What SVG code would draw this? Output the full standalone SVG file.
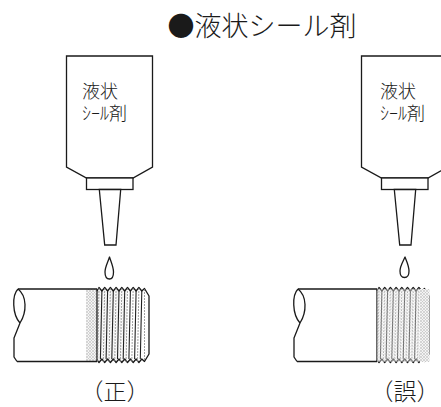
<svg xmlns="http://www.w3.org/2000/svg" width="441" height="407" viewBox="0 0 441 407">
  <defs>
    <style>
      .ln { fill: none; stroke: #1a1a1a; stroke-width: 1.3; stroke-linejoin: round; }
      .body { fill: #fff; stroke: #1a1a1a; stroke-width: 1.3; stroke-linejoin: miter; }
      .thr { stroke: #222; stroke-width: 1.1; fill: none; }
      .thr2 { stroke: #888; stroke-width: 0.8; stroke-dasharray: 2 1; fill: none; }
      .jp { font-family: "Noto Sans CJK JP", "Noto Sans CJK SC", sans-serif; fill: #1a1a1a; font-weight: 300; }
      .title { font-size: 27px; }
      .lbl { font-size: 18px; }
      .cap { font-size: 23px; }
    </style>
    <!-- light crosshatch used for the applied sealant -->
    <pattern id="hatch" width="3" height="3" patternUnits="userSpaceOnUse">
      <rect width="3" height="3" fill="#f4f4f4"/>
      <path d="M0,3 L3,0 M0,0 L3,3" stroke="#c0c0c0" stroke-width="0.6"/>
    </pattern>

    <!-- tube of liquid sealant with its nozzle -->
    <g id="tube">
      <path class="body" d="M66.5,56 L152.5,56 L152.5,167 L133,178 L86.5,178 L66.5,167 Z"/>
      <rect class="body" x="86.5" y="178" width="46.5" height="11.5"/>
      <path class="body" d="M99.3,189.5 L120.7,189.5 L116,245 L104.7,245 Z"/>
    </g>

    <!-- threaded pipe end -->
    <g id="pipeBody">
      <path class="ln" d="M18,289 L97,289 M17,361.5 L97,361.5 M97,289 L97,361.5"/>
      <path class="ln" d="M18,289 C12,295 12,314 20,323 M18,289 C27,296 27,312 20,323 M20,323 L14,338 L14,357 L17,361.5"/>
    </g>
    <g id="threads">
      <path class="ln" d="M97,291 L99,287.5 L101.9,291 L104.7,287.5 L107.6,291 L110.4,287.5 L113.3,291 L116.1,287.5 L119,291 L121.8,287.5 L124.7,291 L127.5,287.5 L130.4,291 L133.2,287.5 L136.1,291 L138.9,287.5 L141.8,291 L144.5,288.5 L149,296 L149,354 L144.5,361.5 L141.8,359 L138.9,362.5 L136.1,359 L133.2,362.5 L130.4,359 L127.5,362.5 L124.7,359 L121.8,362.5 L119,359 L116.1,362.5 L113.3,359 L110.4,362.5 L107.6,359 L104.7,362.5 L101.9,359 L99,362.5 L97,360"/>
      <path class="thr" d="M101.9,291 L100.4,359 M107.6,291 L106.1,359 M113.3,291 L111.8,359 M119,291 L117.5,359 M124.7,291 L123.2,359 M130.4,291 L128.9,359 M136.1,291 L134.6,359 M141.8,291 L140.3,359"/>
      <path class="thr2" d="M99,288 L97.6,362 M104.7,288 L103.3,362 M110.4,288 L109,362 M116.1,288 L114.7,362 M121.8,288 L120.4,362 M127.5,288 L126.1,362 M133.2,288 L131.8,362 M138.9,288 L137.5,362 M144.5,289 L144.5,361"/>
    </g>
  </defs>

  <!-- heading -->
  <text class="jp title" x="262" y="35.5" text-anchor="middle">●液状シール剤</text>

  <!-- left: sealant applied clear of the leading threads -->
  <g id="tube-correct">
    <use href="#tube"/>
    <text class="jp lbl" x="82" y="97.5">液状</text>
    <text class="jp lbl" x="82" y="119.5">ｼｰﾙ剤</text>
    <path class="ln" d="M109.5,257 C108,262 105,267 105,272 C105,277 107,279 109.5,279 C112,279 113.5,277 113.5,272 C113.5,267 111,262 109.5,257 Z"/>
  </g>
  <g id="pipe-correct">
    <rect x="86" y="289" width="11" height="72.5" fill="url(#hatch)"/>
    <rect x="97" y="290" width="30" height="71" fill="url(#hatch)" opacity="0.3"/>
    <use href="#pipeBody"/>
    <use href="#threads"/>
  </g>

  <!-- right: sealant spread over the thread tip -->
  <g id="tube-wrong" transform="translate(295,0)">
    <use href="#tube"/>
    <text class="jp lbl" x="85" y="97.5">液状</text>
    <text class="jp lbl" x="85" y="119.5">ｼｰﾙ剤</text>
    <path class="ln" d="M110,257 C108,262 105,266 105,271 C105,276 107,277.5 109.5,277.5 C112,277.5 114,276 114,271 C114,266 112,262 110,257 Z"/>
  </g>
  <g id="pipe-wrong" transform="translate(280,0)">
    <use href="#pipeBody"/>
    <use href="#threads"/>
    <rect x="97" y="289" width="52" height="73" fill="url(#hatch)" opacity="0.45"/>
    <rect x="140" y="289" width="9.5" height="73" fill="url(#hatch)"/>
  </g>

  <!-- captions -->
  <text class="jp cap" x="115" y="400" text-anchor="middle">（正）</text>
  <text class="jp cap" x="405" y="400" text-anchor="middle">（誤）</text>
</svg>
